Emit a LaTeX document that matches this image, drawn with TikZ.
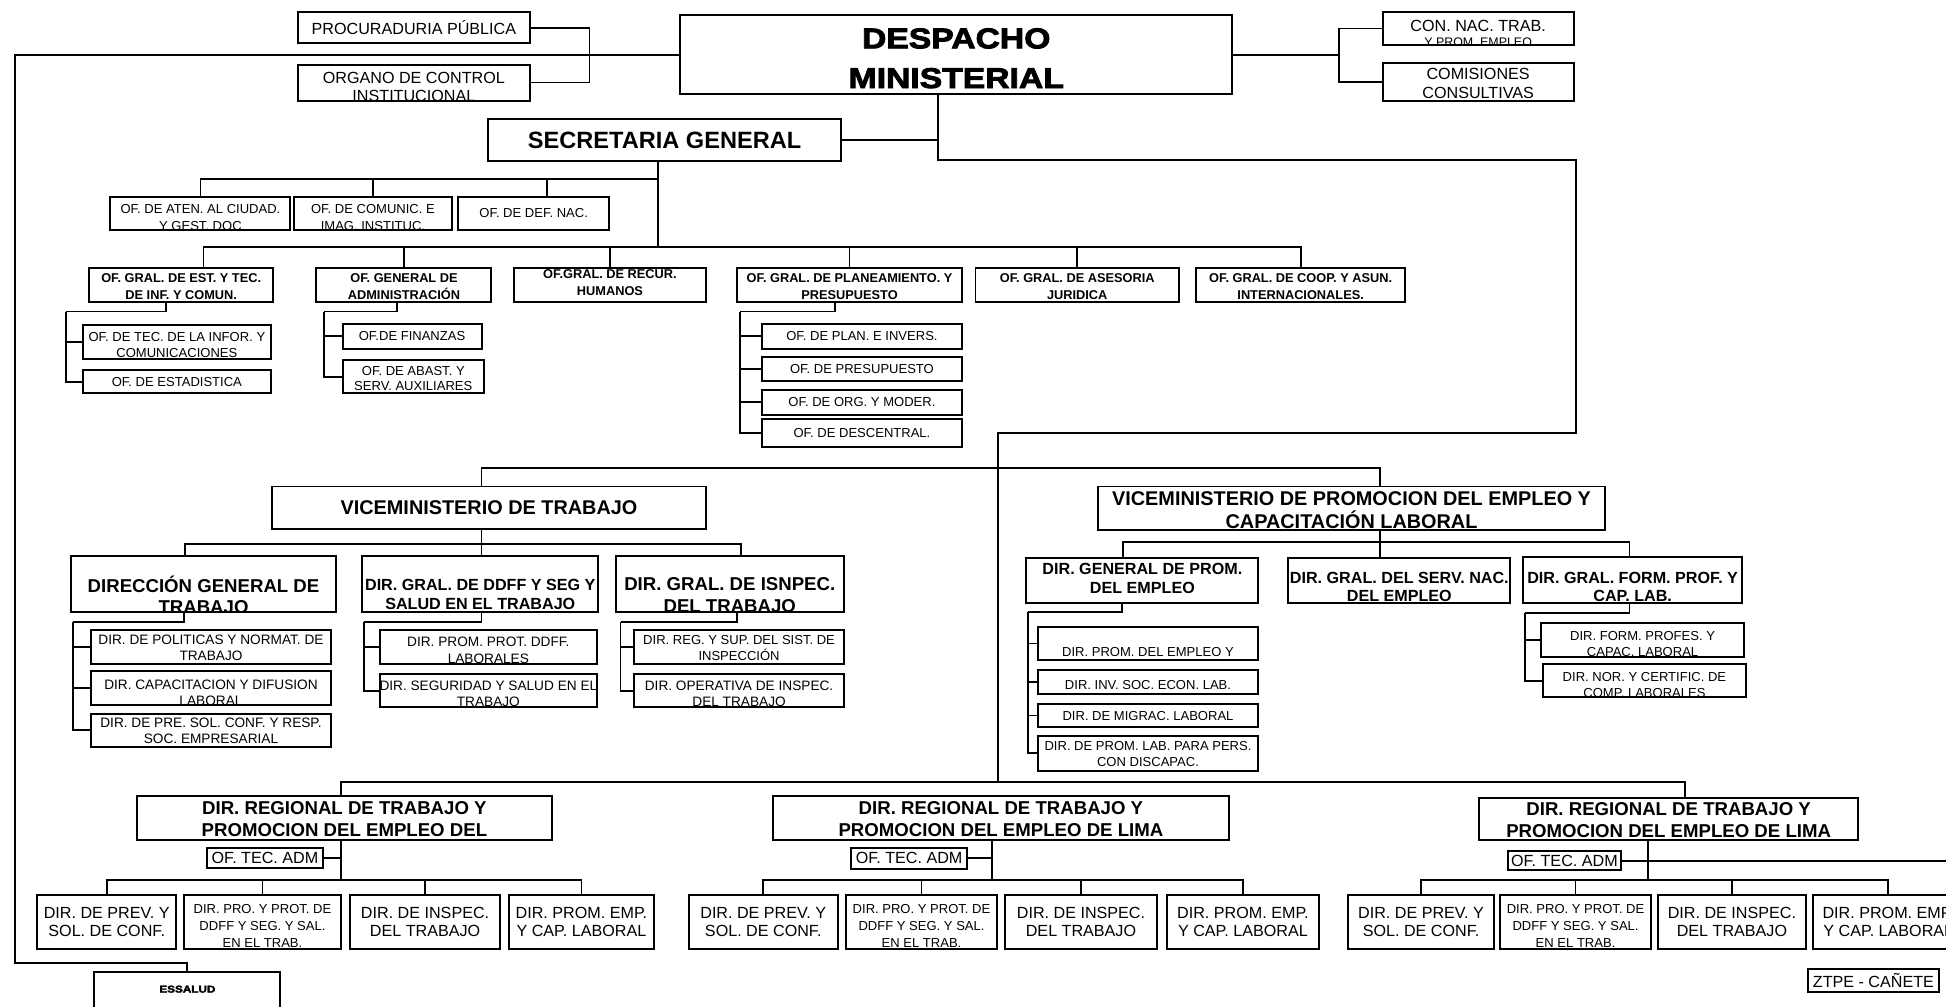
\documentclass[tikz,border=0pt]{standalone}
\usepackage{fontspec}
\setmainfont{Liberation Sans}
\newfontfamily\heavyfont[FakeStretch=1.18,FakeBold=3]{Liberation Sans Bold}

% font sizes
\newcommand\Ftop{\fontsize{13}{14}\selectfont}
\newcommand\Fcon{\fontsize{13}{13}\selectfont}
\newcommand\Frow{\fontsize{10.5}{13.5}\selectfont}
\newcommand\Fgen{\fontsize{10.3}{13.5}\selectfont\bfseries}
\newcommand\Fsub{\fontsize{10.5}{12.5}\selectfont}
\newcommand\Fsubb{\fontsize{11}{13}\selectfont}
\newcommand\Fvm{\fontsize{16}{18}\selectfont\bfseries}
\newcommand\Fdgl{\fontsize{15}{17}\selectfont\bfseries}
\newcommand\Fdgs{\fontsize{13}{15}\selectfont\bfseries}
\newcommand\Freg{\fontsize{15}{18}\selectfont\bfseries}
\newcommand\Frc{\fontsize{13}{15}\selectfont}
\newcommand\Frp{\fontsize{10.5}{13.5}\selectfont}
\newcommand\Fsec{\fontsize{19}{20}\selectfont\bfseries}
\newcommand\Fdesp{\heavyfont\fontsize{23}{32}\selectfont}
\newcommand\Fess{\heavyfont\fontsize{8}{9}\selectfont}

% box: name, x1, y1, x2, y2, font, text centre y, text (clipped to the box)
\newcommand\ob[8]{%
  \node[bx, minimum width={(#4-#2)*1pt}, minimum height={(#5-#3)*1pt}]
    (#1) at ({(#2+#4)/2},{(#3+#5)/2}) {};
  \begin{scope}
    \clip (#2,#3) rectangle (#4,#5);
    \node[tx, font=#6] (#1-t) at ({(#2+#4)/2},#7) {#8};
  \end{scope}}

% left-hand comb: parent, stem x, corner (x,y), children
\newcommand\comb[4]{%
  \coordinate (#1-k) at (#3);
  \draw[ln] (#2,0 |- #1.south) |- (#1-k);
  \foreach \kid in {#4} \draw[ln] (\kid.west) -| (#1-k);}

% regional office: region, stem x, tech office, four children
\newcommand\rk[7]{%
  \coordinate (#1-b) at (#2,709);
  \draw[ln] (#1-b |- #1.south) -- (#1-b);
  \draw[ln] (#3.east) -- (#3.east -| #1-b);
  \draw[ln] (#4.north) |- (#1-b) -| (#7.north);
  \draw[ln] (#5.north) -- (#5.north |- #1-b);
  \draw[ln] (#6.north) -- (#6.north |- #1-b);}

\begin{document}
\begin{tikzpicture}[x=1pt,y=-1pt,
  bx/.style={draw, rectangle, line width=1.6pt, inner sep=0pt, outer sep=0pt},
  tx/.style={inner sep=0pt, outer sep=0pt, align=center},
  ln/.style={line width=1.5pt}]
\useasboundingbox (0,0) rectangle (1568,811);
\fill[white] (0,0) rectangle (1568,811);

% ---- top level
\ob{proc}{240}{10}{427}{35}{\Ftop}{22.5}{PROCURADURIA PÚBLICA}
\ob{oci}{240}{52}{427}{81}{\Ftop}{70}{ORGANO DE CONTROL\\INSTITUCIONAL}
\ob{desp}{548}{12}{993}{76}{\Fdesp}{47}{DESPACHO\\MINISTERIAL}
\ob{con}{1114}{10}{1268}{36}{\Fcon}{27}{CON. NAC. TRAB.\\[-1.5pt]{\fontsize{10}{10}\selectfont Y PROM. EMPLEO}}
\ob{com}{1114}{51}{1268}{81}{\fontsize{13}{15.5}\selectfont}{67}{COMISIONES\\CONSULTIVAS}
\ob{sec}{393}{96}{678}{130}{\Fsec}{113}{SECRETARIA GENERAL}

% ---- offices under the general secretary
\ob{aten}{89}{159}{234}{185}{\Frow}{175}{OF. DE ATEN. AL CIUDAD.\\Y GEST. DOC}
\ob{comunic}{237}{159}{364}{185}{\Frow}{175}{OF. DE COMUNIC. E\\IMAG. INSTITUC.}
\ob{defnac}{369}{159}{491}{185}{\Frow}{172}{OF. DE DEF. NAC.}

\ob{est}{72}{216}{220}{243}{\Fgen}{231}{OF. GRAL. DE EST. Y TEC.\\DE INF. Y COMUN.}
\ob{adm}{255}{216}{396}{243}{\Fgen}{231}{OF. GENERAL DE\\ADMINISTRACIÓN}
\ob{recur}{414}{216}{569}{243}{\Fgen}{228}{OF.GRAL. DE RECUR.\\HUMANOS}
\ob{plan}{594}{216}{775}{243}{\Fgen}{231}{OF. GRAL. DE PLANEAMIENTO. Y\\PRESUPUESTO}
\ob{ases}{786}{216}{950}{243}{\Fgen}{231}{OF. GRAL. DE ASESORIA\\JURIDICA}
\ob{coop}{964}{216}{1132}{243}{\Fgen}{231}{OF. GRAL. DE COOP. Y ASUN.\\INTERNACIONALES.}

\ob{tec}{67}{262}{218}{289}{\Fsub}{278}{OF. DE TEC. DE LA INFOR. Y\\COMUNICACIONES}
\ob{estad}{67}{298}{218}{317}{\Fsub}{307.5}{OF. DE ESTADISTICA}
\ob{fin}{276}{261}{388}{281}{\Fsub}{271}{OF.DE FINANZAS}
\ob{abast}{276}{290}{390}{317}{\Fsub}{305}{OF. DE ABAST. Y\\SERV. AUXILIARES}
\ob{planinv}{614}{261}{775}{281}{\Fsub}{271}{OF. DE PLAN. E INVERS.}
\ob{presup}{614}{288}{775}{307}{\Fsub}{297.5}{OF. DE PRESUPUESTO}
\ob{org}{614}{314}{775}{334}{\Fsub}{324}{OF. DE ORG. Y MODER.}
\ob{desc}{614}{338}{775}{360}{\Fsub}{349}{OF. DE DESCENTRAL.}

% ---- vice-ministries
\ob{vmt}{219}{392}{569}{426}{\Fvm}{409}{VICEMINISTERIO DE TRABAJO}
\ob{vmp}{885}{392}{1293}{427}{\Fvm}{411}{VICEMINISTERIO DE PROMOCION DEL EMPLEO Y\\CAPACITACIÓN LABORAL}

\ob{dgt}{57}{448}{271}{493}{\Fdgl}{479.5}{DIRECCIÓN GENERAL DE\\TRABAJO}
\ob{ddff}{292}{448}{482}{493}{\Fdgs}{479}{DIR. GRAL. DE DDFF Y SEG Y\\SALUD EN EL TRABAJO}
\ob{insp}{496}{448}{680}{493}{\Fdgl}{479.5}{DIR. GRAL. DE ISNPEC.\\DEL TRABAJO}

\ob{pol}{73}{508}{267}{535}{\Fsubb}{522}{DIR. DE POLITICAS Y NORMAT. DE\\TRABAJO}
\ob{capac}{73}{541}{267}{568}{\Fsubb}{558}{DIR. CAPACITACION Y DIFUSION\\LABORAL}
\ob{pre}{73}{575}{267}{602}{\Fsubb}{589}{DIR. DE PRE. SOL. CONF. Y RESP.\\SOC. EMPRESARIAL}
\ob{prot}{306}{508}{481}{535}{\Fsubb}{524}{DIR. PROM. PROT. DDFF.\\LABORALES}
\ob{seg}{306}{543}{481}{570}{\Fsubb}{559}{DIR. SEGURIDAD Y SALUD EN EL\\TRABAJO}
\ob{reg}{511}{508}{680}{535}{\Fsub}{522}{DIR. REG. Y SUP. DEL SIST. DE\\INSPECCIÓN}
\ob{oper}{511}{543}{680}{570}{\Fsubb}{559}{DIR. OPERATIVA DE INSPEC.\\DEL TRABAJO}

\ob{dgpe}{827}{450}{1014}{486}{\Fdgs}{466}{DIR. GENERAL DE PROM.\\DEL EMPLEO}
\ob{dgsne}{1038}{450}{1217}{486}{\Fdgs}{473}{DIR. GRAL. DEL SERV. NAC.\\DEL EMPLEO}
\ob{dgfp}{1227}{449}{1404}{486}{\Fdgs}{473}{DIR. GRAL. FORM. PROF. Y\\CAP. LAB.}

\ob{pe1}{836}{505}{1014}{532}{\Fsub}{525}{DIR. PROM. DEL EMPLEO Y}
\ob{pe2}{836}{540}{1014}{559}{\Fsub}{552}{DIR. INV. SOC. ECON. LAB.}
\ob{pe3}{836}{567}{1014}{586}{\Fsub}{577}{DIR. DE MIGRAC. LABORAL}
\ob{pe4}{836}{593}{1014}{621}{\Fsub}{607.5}{DIR. DE PROM. LAB. PARA PERS.\\CON DISCAPAC.}
\ob{fp1}{1242}{502}{1405}{529}{\Fsub}{519}{DIR. FORM. PROFES. Y\\CAPAC. LABORAL}
\ob{fp2}{1243}{535}{1407}{562}{\Fsub}{552}{DIR. NOR. Y CERTIFIC. DE\\COMP. LABORALES}

% ---- regional offices
\ob{reg1}{110}{641}{445}{677}{\Freg}{660}{DIR. REGIONAL DE TRABAJO Y\\PROMOCION DEL EMPLEO DEL}
\ob{reg2}{623}{641}{990}{677}{\Freg}{660}{DIR. REGIONAL DE TRABAJO Y\\PROMOCION DEL EMPLEO DE LIMA}
\ob{reg3}{1192}{643}{1497}{677}{\Freg}{661}{DIR. REGIONAL DE TRABAJO Y\\PROMOCION DEL EMPLEO DE LIMA}

\ob{tec1}{167}{683}{260}{699}{\Frc}{691.5}{OF. TEC. ADM}
\ob{tec2}{686}{683}{779}{700}{\Frc}{691.5}{OF. TEC. ADM}
\ob{tec3}{1215}{686}{1306}{701}{\Frc}{693.5}{OF. TEC. ADM}

\ob{prev1}{30}{721}{142}{765}{\Frc}{743}{DIR. DE PREV. Y\\SOL. DE CONF.}
\ob{pro1}{148}{721}{275}{765}{\Frp}{746}{DIR. PRO. Y PROT. DE\\DDFF Y SEG. Y SAL.\\EN EL TRAB.}
\ob{ins1}{282}{721}{403}{765}{\Frc}{743}{DIR. DE INSPEC.\\DEL TRABAJO}
\ob{prom1}{410}{721}{527}{765}{\Frc}{743}{DIR. PROM. EMP.\\Y CAP. LABORAL}

\ob{prev2}{555}{721}{675}{765}{\Frc}{743}{DIR. DE PREV. Y\\SOL. DE CONF.}
\ob{pro2}{682}{721}{803}{765}{\Frp}{746}{DIR. PRO. Y PROT. DE\\DDFF Y SEG. Y SAL.\\EN EL TRAB.}
\ob{ins2}{810}{721}{932}{765}{\Frc}{743}{DIR. DE INSPEC.\\DEL TRABAJO}
\ob{prom2}{940}{721}{1063}{765}{\Frc}{743}{DIR. PROM. EMP.\\Y CAP. LABORAL}

\ob{prev3}{1086}{721}{1204}{765}{\Frc}{743}{DIR. DE PREV. Y\\SOL. DE CONF.}
\ob{pro3}{1209}{721}{1330}{765}{\Frp}{746}{DIR. PRO. Y PROT. DE\\DDFF Y SEG. Y SAL.\\EN EL TRAB.}
\ob{ins3}{1336}{721}{1455}{765}{\Frc}{743}{DIR. DE INSPEC.\\DEL TRABAJO}
\ob{prom3}{1461}{721}{1582}{765}{\Frc}{743}{DIR. PROM. EMP.\\Y CAP. LABORAL}

\ob{ztpe}{1457}{781}{1562}{799}{\Frc}{790}{ZTPE - CAÑETE}
\ob{ess}{76}{783}{226}{822}{\Fess}{797}{ESSALUD}

% ---- connectors, top level
\coordinate (bkL) at (475,44);
\draw[ln] (proc.east) -| (bkL) |- (oci.east);
\coordinate (lt) at (12,44);
\coordinate (lb) at (12,776);
\draw[ln] (desp.west) -- (lt) -- (lb) -| (ess.north);
\coordinate (bkR) at (1079,44);
\draw[ln] (desp.east) -- (bkR);
\draw[ln] (con.west) -| (bkR) |- (com.west);

\coordinate (dA) at (756,129);
\coordinate (dB) at (1270,129);
\coordinate (dC) at (1270,349);
\coordinate (dD) at (804,349);
\coordinate (rg) at (804,630);
\draw[ln] (desp.south -| dA) -- (dA) -- (dB) -- (dC) -- (dD) -- (rg);
\draw[ln] (sec.east) -- (sec.east -| dA);

% ---- general secretary's offices
\coordinate (s1) at (530,144);
\coordinate (s2) at (530,199);
\draw[ln] (sec.south -| s1) -- (s2);
\draw[ln] (aten.north) |- (s1);
\draw[ln] (comunic.north) -- (comunic.north |- s1);
\coordinate (d3) at (441,144);
\draw[ln] (d3) -- (d3 |- defnac.north);

\coordinate (e0) at (164,199);
\draw[ln] (e0 |- est.north) -- (e0) -- (s2) -| (coop.north);
\foreach \n in {adm,recur,plan,ases} \draw[ln] (\n.north) -- (\n.north |- s2);

\comb{est}{134}{53,251}{tec,estad}
\comb{adm}{320}{261,251}{fin,abast}
\comb{plan}{673}{596,251}{planinv,presup,org,desc}

% ---- vice-ministries
\coordinate (vmL) at (388,377);
\coordinate (vmR) at (1112,377);
\draw[ln] (vmL |- vmt.north) -- (vmL) -- (vmR) -- (vmR |- vmp.north);

\coordinate (vtL) at (149,438);
\coordinate (vtM) at (388,438);
\coordinate (vtR) at (597,438);
\draw[ln] (vtM |- vmt.south) -- (vtM) -- (vtM |- ddff.north);
\draw[ln] (vtL |- dgt.north) -- (vtL) -- (vtR) -- (vtR |- insp.north);

\coordinate (vpL) at (905,437);
\coordinate (vpM) at (1112,437);
\coordinate (vpR) at (1313,437);
\draw[ln] (vpM |- vmp.south) -- (vpM) -- (vpM |- dgsne.north);
\draw[ln] (vpL |- dgpe.north) -- (vpL) -- (vpR) -- (vpR |- dgfp.north);

\comb{dgt}{148}{59,501}{pol,capac,pre}
\comb{ddff}{388}{293,501}{prot,seg}
\comb{insp}{594}{500,501}{reg,oper}
\comb{dgpe}{904}{828,493}{pe1,pe2,pe3,pe4}
\comb{dgfp}{1313}{1229,494}{fp1,fp2}

% ---- regional offices
\coordinate (rgL) at (275,630);
\coordinate (rgR) at (1358,630);
\draw[ln] (rgL |- reg1.north) -- (rgL) -- (rgR) -- (rgR |- reg3.north);

\rk{reg1}{275}{tec1}{prev1}{pro1}{ins1}{prom1}
\rk{reg2}{799}{tec2}{prev2}{pro2}{ins2}{prom2}
\rk{reg3}{1328}{tec3}{prev3}{pro3}{ins3}{prom3}
\coordinate (tecx) at (1570,693.5);
\draw[ln] (reg3-b |- tec3.east) -- (tecx);
\end{tikzpicture}
\end{document}
